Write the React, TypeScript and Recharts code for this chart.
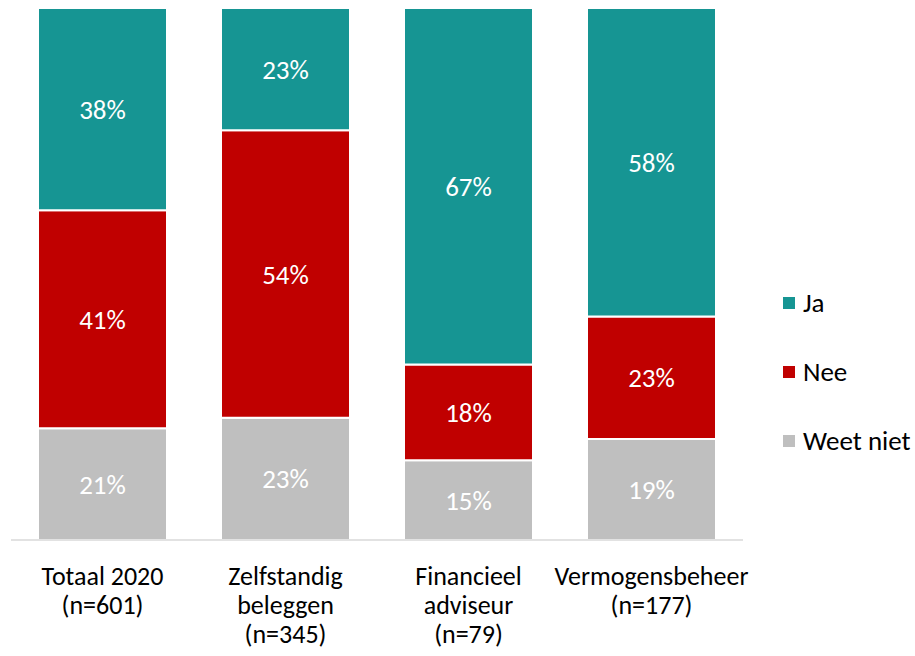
import { Bar, BarChart, LabelList, XAxis, YAxis } from "recharts";

const categories = [
  "Totaal 2020\n(n=601)",
  "Zelfstandig\nbeleggen\n(n=345)",
  "Financieel\nadviseur\n(n=79)",
  "Vermogensbeheer\n(n=177)",
];
const weetNiet = [21, 23, 15, 19];
const nee = [41, 54, 18, 23];
const ja = [38, 23, 67, 58];

const COLORS = { ja: "#169593", nee: "#C00000", weetNiet: "#BFBFBF" };
const FONT = "Carlito, Lato, 'Liberation Sans', sans-serif";

const data = categories.map((name, i) => ({
  name,
  weetNiet: weetNiet[i],
  nee: nee[i],
  ja: ja[i],
}));

const legendItems = [
  { label: "Ja", color: COLORS.ja },
  { label: "Nee", color: COLORS.nee },
  { label: "Weet niet", color: COLORS.weetNiet },
];

function CategoryTick({ x, payload }: any) {
  const lines = String(payload.value).split("\n");
  return (
    <text x={x} y={540} textAnchor="middle" fill="#000" fontSize={26} fontFamily={FONT}>
      {lines.map((line, i) => (
        <tspan key={i} x={x} dy={i === 0 ? 45 : 29}>
          {line}
        </tspan>
      ))}
    </text>
  );
}

function LegendBox() {
  return (
    <div
      style={{
        position: "absolute",
        left: 783,
        top: 268,
        fontFamily: FONT,
        fontSize: 27,
        color: "#000",
      }}
    >
      {legendItems.map((item) => (
        <div key={item.label} style={{ display: "flex", alignItems: "center", height: 69 }}>
          <span style={{ width: 12, height: 12, background: item.color, marginRight: 8 }} />
          {item.label}
        </div>
      ))}
    </div>
  );
}

const pct = (v: any) => `${v}%`;

export default function App() {
  return (
    <div style={{ position: "fixed", left: 0, top: 0, width: 915, height: 656, background: "#fff" }}>
      <BarChart
        width={915}
        height={656}
        data={data}
        margin={{ top: 8, right: 172, bottom: 0, left: 11 }}
        barCategoryGap={27}
      >
        <XAxis
          dataKey="name"
          tick={<CategoryTick />}
          tickLine={false}
          axisLine={{ stroke: "#D9D9D9", strokeWidth: 1.5 }}
          interval={0}
          height={116}
        />
        <YAxis hide domain={[0, 100]} />
        <Bar dataKey="weetNiet" stackId="a" fill={COLORS.weetNiet} stroke="#fff" strokeWidth={2} isAnimationActive={false}>
          <LabelList dataKey="weetNiet" position="center" formatter={pct} fill="#fff" fontSize={27} fontFamily={FONT} />
        </Bar>
        <Bar dataKey="nee" stackId="a" fill={COLORS.nee} stroke="#fff" strokeWidth={2} isAnimationActive={false}>
          <LabelList dataKey="nee" position="center" formatter={pct} fill="#fff" fontSize={27} fontFamily={FONT} />
        </Bar>
        <Bar dataKey="ja" stackId="a" fill={COLORS.ja} stroke="#fff" strokeWidth={2} isAnimationActive={false}>
          <LabelList dataKey="ja" position="center" formatter={pct} fill="#fff" fontSize={27} fontFamily={FONT} />
        </Bar>
      </BarChart>
      <LegendBox />
    </div>
  );
}
